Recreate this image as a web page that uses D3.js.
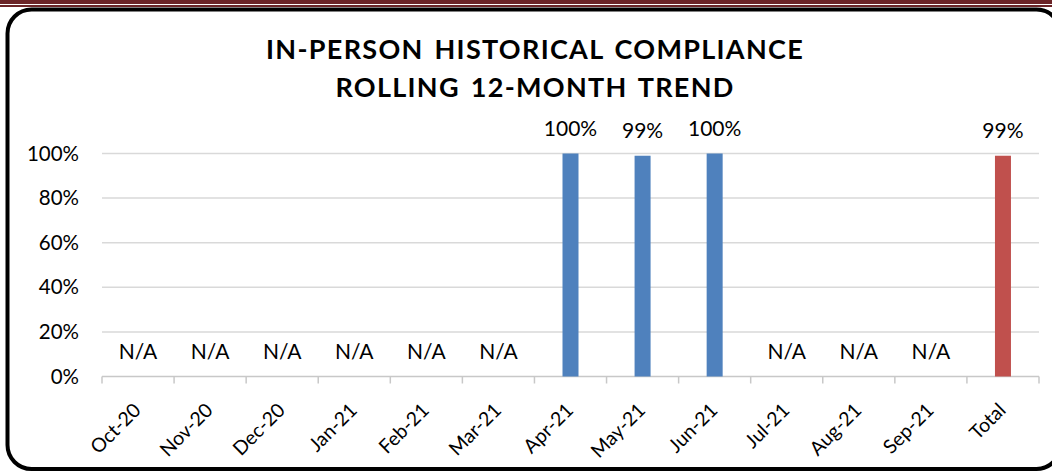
<!DOCTYPE html>
<html>
<head>
<meta charset="utf-8">
<script src="https://cdn.jsdelivr.net/npm/d3@7"></script>
<style>
  body { margin: 0; background: #fff; }
  svg { display: block; }
  text { font-family: Lato, "Open Sans", sans-serif; fill: #000; }
</style>
</head>
<body>
<div id="chart"></div>
<script>
// chart data
var months = ["Oct-20", "Nov-20", "Dec-20", "Jan-21", "Feb-21", "Mar-21",
              "Apr-21", "May-21", "Jun-21", "Jul-21", "Aug-21", "Sep-21", "Total"];
var compliance = [null, null, null, null, null, null, 1.00, 0.99, 1.00, null, null, null, 0.99];
var yTicks = [0, 0.2, 0.4, 0.6, 0.8, 1.0];
var titleLines = ["IN-PERSON HISTORICAL COMPLIANCE", "ROLLING 12-MONTH TREND"];

var svgWidth = 1052;
var svgHeight = 472;

var margin = {
    top: 153.5,
    right: 13,
    bottom: 95.5,
    left: 102
};

var width = svgWidth - margin.left - margin.right;
var height = svgHeight - margin.top - margin.bottom;

var svg = d3.select("#chart")
    .append("svg")
    .attr("width", svgWidth)
    .attr("height", svgHeight);

// maroon stripes at the top of the page
svg.append("rect").attr("x", 0).attr("y", 0).attr("width", svgWidth).attr("height", 4).attr("fill", "#6b2427");
svg.append("rect").attr("x", 0).attr("y", 5).attr("width", svgWidth).attr("height", 2).attr("fill", "#6b2427");

// rounded frame
svg.append("rect")
    .attr("x", 7.5)
    .attr("y", 9.5)
    .attr("width", 1053)
    .attr("height", 459.5)
    .attr("rx", 24)
    .attr("fill", "#fff")
    .attr("stroke", "#000")
    .attr("stroke-width", 4);

// title
svg.append("g")
    .selectAll("text")
    .data(titleLines)
    .enter()
    .append("text")
    .attr("x", 535)
    .attr("y", function(d, i) { return 59 + i * 38; })
    .attr("text-anchor", "middle")
    .style("font-size", "27px")
    .style("font-weight", "bold")
    .style("letter-spacing", "1.3px")
    .style("word-spacing", "3px")
    .text(function(d) { return d; });

var chart = svg.append("g")
    .attr("transform", "translate(" + margin.left + "," + margin.top + ")");

var xScale = d3.scaleBand()
    .domain(months)
    .range([0, width]);

var yScale = d3.scaleLinear()
    .domain([0, 1])
    .range([height, 0]);

// gridlines
chart.append("g")
    .selectAll("line")
    .data(yTicks.slice(1))
    .enter()
    .append("line")
    .attr("x1", 0)
    .attr("x2", width)
    .attr("y1", function(d) { return yScale(d); })
    .attr("y2", function(d) { return yScale(d); })
    .attr("stroke", "#d9d9d9")
    .attr("stroke-width", 1.5);

// y axis labels
var leftAxis = d3.axisLeft(yScale)
    .tickValues(yTicks)
    .tickFormat(d3.format(".0%"))
    .tickSize(0)
    .tickPadding(23);

chart.append("g")
    .call(leftAxis)
    .call(function(g) { g.select(".domain").remove(); })
    .selectAll("text")
    .style("font-family", "Lato, sans-serif")
    .style("font-size", "20.5px")
    .attr("fill", "#000");

// x axis with ticks between categories
var xAxis = chart.append("g")
    .attr("transform", "translate(0," + height + ")");

xAxis.append("line")
    .attr("x1", 0)
    .attr("x2", width)
    .attr("stroke", "#c8c8c8")
    .attr("stroke-width", 1.5);

xAxis.selectAll(".tick")
    .data(months.concat(["end"]))
    .enter()
    .append("line")
    .attr("class", "tick")
    .attr("x1", function(d, i) { return i * xScale.step(); })
    .attr("x2", function(d, i) { return i * xScale.step(); })
    .attr("y1", 0)
    .attr("y2", 7)
    .attr("stroke", "#c8c8c8")
    .attr("stroke-width", 1.5);

xAxis.selectAll(".xlabel")
    .data(months)
    .enter()
    .append("text")
    .attr("class", "xlabel")
    .attr("text-anchor", "end")
    .attr("transform", function(d) {
        return "translate(" + (xScale(d) + xScale.bandwidth() / 2 + 4) + ",35) rotate(-45)";
    })
    .style("font-size", "19.5px")
    .text(function(d) { return d; });

// bars
var barWidth = 16;

chart.selectAll(".bar")
    .data(months.map(function(m, i) { return { month: m, value: compliance[i] }; })
        .filter(function(d) { return d.value !== null; }))
    .enter()
    .append("rect")
    .attr("class", "bar")
    .attr("x", function(d) { return xScale(d.month) + xScale.bandwidth() / 2 - barWidth / 2; })
    .attr("y", function(d) { return yScale(d.value); })
    .attr("width", barWidth)
    .attr("height", function(d) { return height - yScale(d.value); })
    .attr("fill", function(d) { return d.month === "Total" ? "#c0504d" : "#4f81bd"; });

// data labels
chart.selectAll(".label")
    .data(months)
    .enter()
    .append("text")
    .attr("class", "label")
    .attr("x", function(d) { return xScale(d) + xScale.bandwidth() / 2; })
    .attr("y", function(d, i) { return yScale(compliance[i] || 0) - 17.5; })
    .attr("text-anchor", "middle")
    .style("font-size", "21px")
    .text(function(d, i) {
        return compliance[i] === null ? "N/A" : d3.format(".0%")(compliance[i]);
    });
</script>
</body>
</html>
